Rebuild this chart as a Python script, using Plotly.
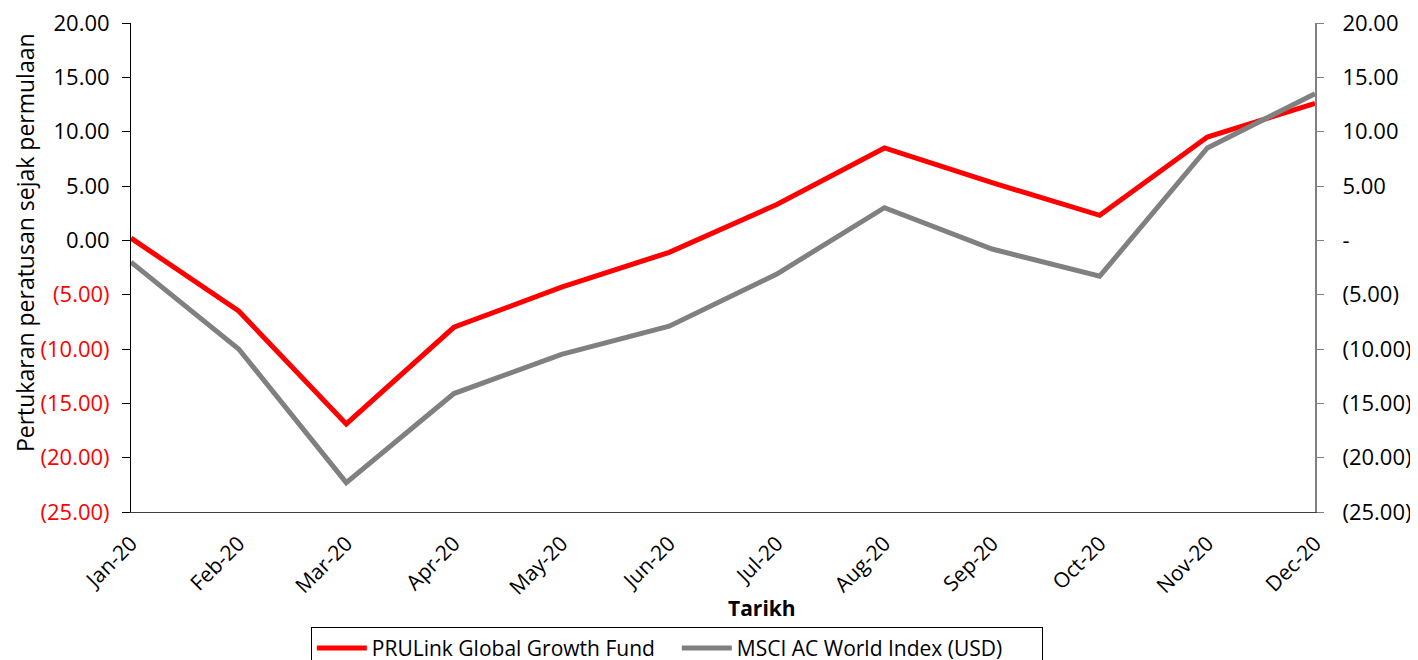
import plotly.graph_objects as go

months = ["Jan-20", "Feb-20", "Mar-20", "Apr-20", "May-20", "Jun-20",
          "Jul-20", "Aug-20", "Sep-20", "Oct-20", "Nov-20", "Dec-20"]
fund = [0.2, -6.5, -16.9, -8.0, -4.3, -1.1, 3.3, 8.5, 5.3, 2.3, 9.5, 12.6]
msci = [-2.0, -10.0, -22.3, -14.1, -10.5, -7.9, -3.1, 3.0, -0.8, -3.3, 8.5, 13.5]
tick_vals = [20, 15, 10, 5, 0, -5, -10, -15, -20, -25]
left_text = ["20.00", "15.00", "10.00", "5.00", "0.00",
             "<span style='color:#FF0000'>(5.00)</span>",
             "<span style='color:#FF0000'>(10.00)</span>",
             "<span style='color:#FF0000'>(15.00)</span>",
             "<span style='color:#FF0000'>(20.00)</span>",
             "<span style='color:#FF0000'>(25.00)</span>"]
right_text = ["20.00", "15.00", "10.00", "5.00", "-", "(5.00)", "(10.00)",
              "(15.00)", "(20.00)", "(25.00)"]

FONT = "Open Sans"

fig = go.Figure()
fig.add_trace(go.Scatter(x=months, y=fund, mode="lines", name="PRULink Global Growth Fund",
                         line=dict(color="#FF0000", width=5)))
fig.add_trace(go.Scatter(x=months, y=msci, mode="lines", name="MSCI AC World Index (USD)",
                         line=dict(color="#808080", width=5), yaxis="y2"))

fig.update_layout(
    width=1418, height=660,
    margin=dict(l=123, r=111, t=15, b=156, autoexpand=False),
    paper_bgcolor="white", plot_bgcolor="white",
    font=dict(family=FONT, size=20, color="black"),
    xaxis=dict(type="category", range=[0, 11], tickangle=-45, automargin=False,
               showline=True, linecolor="#404040", linewidth=1,
               ticks="", ticklabelstandoff=10, tickfont=dict(size=21),
               ticklabeloverflow="allow",
               showgrid=False, zeroline=False),
    yaxis=dict(range=[-25, 20], tickvals=tick_vals, ticktext=left_text, automargin=False,
               showline=True, linecolor="black", linewidth=1,
               ticks="outside", ticklen=8, tickcolor="black", ticklabelstandoff=8,
               ticklabeloverflow="allow",
               showgrid=False, zeroline=False, tickfont=dict(size=22)),
    yaxis2=dict(range=[-25, 20], tickvals=tick_vals, ticktext=right_text, automargin=False,
                overlaying="y", side="right",
                showline=True, linecolor="#808080", linewidth=2,
                ticks="outside", ticklen=7, tickcolor="#808080", ticklabelstandoff=14,
                ticklabeloverflow="allow",
                showgrid=False, zeroline=False, tickfont=dict(size=22)),
    showlegend=True,
    legend=dict(orientation="h", x=0.461, xanchor="center", y=-0.235, yanchor="top",
                bordercolor="black", borderwidth=1, font=dict(size=21),
                entrywidth=300, itemwidth=50),
    annotations=[
        dict(text="<b>Tarikh</b>", x=0.533, y=-0.196, xref="paper", yref="paper",
             showarrow=False, font=dict(size=21), xanchor="center", yanchor="middle"),
        dict(text="Pertukaran peratusan sejak permulaan", x=-0.0895, y=0.55,
             xref="paper", yref="paper", textangle=-90, showarrow=False,
             font=dict(size=23), xanchor="center", yanchor="middle"),
    ],
)

fig.write_html("out.html")
